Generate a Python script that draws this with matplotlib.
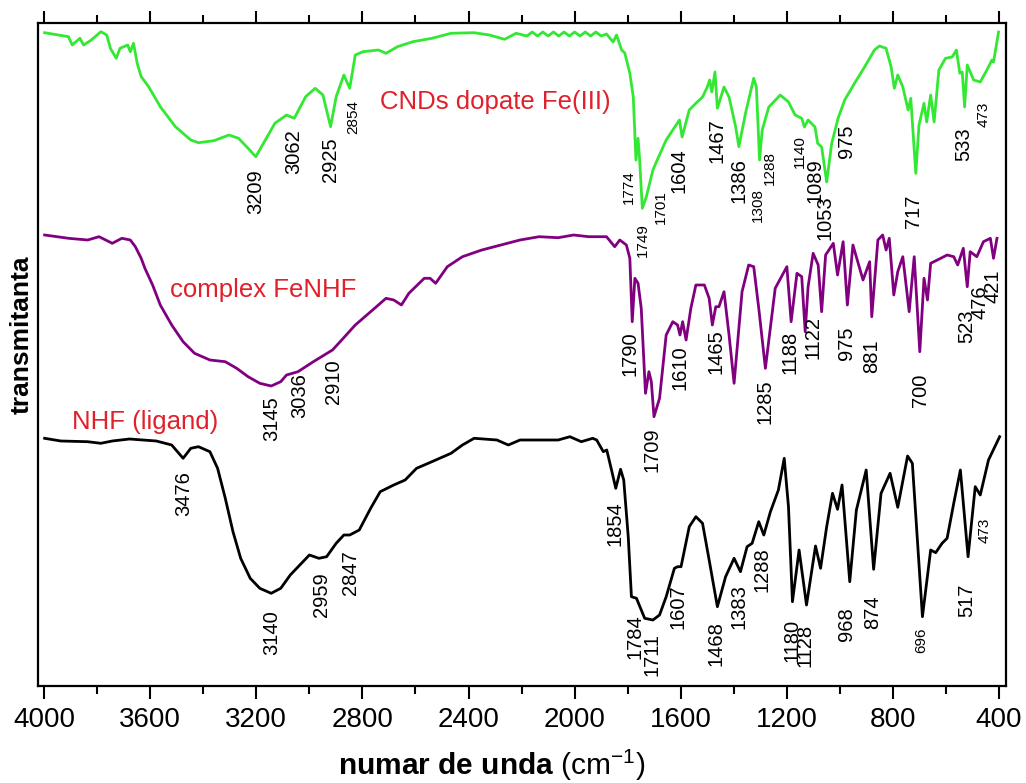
import matplotlib
matplotlib.use('Agg')
import matplotlib.pyplot as plt
from matplotlib.ticker import MultipleLocator

plt.rcParams['font.family'] = ['Liberation Sans', 'DejaVu Sans']
plt.rcParams['mathtext.fontset'] = 'custom'
plt.rcParams['mathtext.rm'] = 'Liberation Sans'
plt.rcParams['mathtext.bf'] = 'Liberation Sans:bold'
plt.rcParams['mathtext.it'] = 'Liberation Sans:italic'

# ---------------- data (wavenumber cm-1, transmittance a.u.) ----------------
green_wn = [3998, 3908, 3894, 3865, 3851, 3822, 3786, 3764, 3750, 3728, 3714, 3685, 3675, 3663,
            3649, 3634, 3606, 3562, 3505, 3447, 3418, 3360, 3303, 3267, 3231, 3202, 3173, 3130,
            3086, 3057, 3014, 2978, 2949, 2920, 2899, 2870, 2848, 2827, 2798, 2740, 2711, 2668,
            2610, 2538, 2466, 2379, 2322, 2264, 2221, 2180, 2160, 2140, 2120, 2100, 2080, 2060,
            2040, 2020, 2000, 1980, 1960, 1940, 1920, 1900, 1880, 1855, 1842, 1823, 1811, 1792,
            1779, 1769, 1761, 1755, 1745, 1730, 1705, 1692, 1655, 1630, 1605, 1595, 1568, 1543,
            1518, 1500, 1491, 1483, 1471, 1462, 1437, 1418, 1393, 1381, 1356, 1325, 1315, 1303,
            1293, 1268, 1225, 1194, 1169, 1144, 1134, 1120, 1094, 1084, 1069, 1050, 1031, 1007,
            982, 945, 907, 870, 851, 826, 807, 795, 782, 763, 743, 733, 714, 702, 683, 673, 658,
            645, 627, 602, 577, 561, 548, 539, 530, 520, 496, 471, 446, 427, 421, 402]
green_t = [653.3, 649.3, 641, 647.7, 641, 646, 654.3, 651, 637.7, 627.7, 637.7, 641, 634.3, 642.7,
           622.7, 609.3, 599.3, 579.3, 559.3, 546, 543.3, 545.3, 551, 547.7, 537.7, 529.3, 542.7, 562.7,
           571, 567.7, 589.3, 597.7, 591, 559.3, 589.3, 611, 597.7, 631, 634.3, 636, 632.7, 639.3,
           644.3, 647.7, 652.7, 653.3, 651, 646.7, 652.7, 650, 654, 650, 654, 650, 654, 650,
           654, 650, 654, 650, 654, 650, 654, 650, 652, 644, 651, 636, 633, 612.7,
           589, 526, 547.7, 526, 477.7, 489, 516, 524, 546, 556, 566, 549, 576, 582.7,
           589, 599, 606, 594, 614, 577.7, 599, 589, 559, 539.3, 572.7, 607.7, 599, 526,
           556, 579, 591, 584, 571, 567.7, 559, 566, 559, 542.7, 539, 504, 542.7, 567.7,
           586, 602.7, 619, 636, 640, 637.7, 619, 597.7, 611, 599, 576, 587.7, 512.7, 561, 582.7, 564, 591,
           564, 616, 627.7, 629, 636, 612.7, 614, 579, 621, 606, 604, 616, 626, 624, 654]

purple_wn = [3998, 3908, 3836, 3793, 3743, 3707, 3675, 3656, 3634, 3620, 3591, 3562, 3519, 3476,
             3433, 3375, 3317, 3274, 3231, 3187, 3144, 3108, 3086, 3043, 2985, 2913, 2884, 2827,
             2769, 2711, 2682, 2653, 2625, 2567, 2545, 2524, 2480, 2423, 2350, 2278, 2206, 2134,
             2062, 2004, 1947, 1880, 1849, 1830, 1805, 1792, 1783, 1773, 1761, 1749, 1733, 1720,
             1711, 1701, 1680, 1655, 1630, 1612, 1603, 1593, 1580, 1562, 1543, 1511, 1493, 1481,
             1468, 1456, 1437, 1418, 1399, 1369, 1344, 1325, 1306, 1281, 1244, 1200, 1184, 1162,
             1144, 1131, 1120, 1101, 1082, 1069, 1054, 1025, 1009, 988, 972, 951, 913, 888, 880,
             857, 839, 826, 814, 797, 782, 763, 739, 720, 699, 683, 670, 658, 620, 596, 571, 556,
             535, 520, 509, 484, 459, 433, 421, 408]
purple_t = [451, 447.7, 446, 449.3, 442.7, 447.7, 446, 439.3, 427.7, 417.7, 401, 381, 361, 344.3,
            332.7, 326, 324.3, 317.7, 309.3, 302.7, 300, 304.3, 311, 314.3, 324.3, 336, 344.3, 361,
            374.3, 387.7, 386, 381, 392.7, 407.7, 407.7, 402.7, 419.3, 429.3, 436, 441, 446, 449.3,
            448.3, 451, 449.3, 449.3, 439.3, 446, 441, 427.7, 364.3, 407.7, 402.7, 377.7, 292.7, 314.3,
            304.3, 269.3, 287.7, 351, 364.3, 361, 351, 364.3, 346, 377.7, 401, 401, 387.7, 361,
            379.3, 379.3, 394.3, 351, 302.7, 394.3, 421, 419.3, 377.7, 317.7, 397.7, 419.3, 364.3, 412.7,
            409.3, 354.3, 399.3, 432.7, 421, 374.3, 431, 442.7, 411, 444.3, 381, 441, 406, 424.3, 369.3,
            446, 451, 436, 447.7, 391, 414.3, 429.3, 374.3, 429.3, 334.3, 407.7, 386, 422.7, 427.7, 431, 429.3, 421,
            437.7, 399.3, 434.3, 429.3, 444.3, 447.7, 427.7, 447.7]

black_wn = [3998, 3937, 3836, 3786, 3743, 3678, 3577, 3519, 3476, 3447, 3418, 3375, 3346, 3317,
            3288, 3259, 3223, 3187, 3144, 3108, 3072, 3036, 3000, 2964, 2935, 2899, 2870, 2848,
            2812, 2769, 2733, 2682, 2639, 2596, 2552, 2509, 2466, 2423, 2379, 2293, 2250, 2206,
            2134, 2062, 2018, 1975, 1932, 1917, 1892, 1879, 1861, 1845, 1827, 1815, 1798, 1786,
            1767, 1754, 1736, 1705, 1680, 1655, 1624, 1612, 1599, 1568, 1543, 1518, 1493, 1462,
            1431, 1399, 1375, 1350, 1331, 1306, 1287, 1262, 1232, 1210, 1194, 1179, 1154, 1126,
            1092, 1073, 1050, 1028, 1009, 992, 963, 938, 901, 873, 845, 811, 782, 745, 727, 689,
            658, 639, 615, 596, 571, 546, 517, 490, 471, 440, 398]
black_t = [247.7, 245, 244.3, 242.7, 245, 247, 245, 241, 227.7, 237.7, 239.3, 234.3, 217.7, 187.7,
           154.3, 127.7, 107.7, 97.7, 92.7, 97.7, 111, 121, 131, 127.7, 129.3, 142.7, 151, 151,
           156, 177.7, 194.3, 201, 206, 217.7, 222.7, 227.7, 232.7, 241, 247.7, 246, 241, 246,
           246, 246, 249.3, 244.3, 247.7, 246, 234.3, 236, 216, 197.7, 216.7, 206, 149.3, 89.3,
           87.7, 79.3, 67.7, 66, 71, 89.3, 117.7, 119.3, 119.3, 159.3, 169.3, 162.7, 126, 79.3,
           109.3, 127.7, 114.3, 139.3, 142.7, 164.3, 151, 174.3, 196, 227.7, 179.3, 84.3, 136, 81,
           140, 117.7, 159.3, 192.7, 176.7, 201, 104.3, 176, 216, 116.7, 192.7, 212.7, 178.7, 230, 222.7, 69.3,
           136, 133.3, 142.7, 147.7, 182.7, 216, 129.3, 199.3, 191, 226, 249.3]

# peak labels: text, wavenumber position, transmittance position, small font?
green_labels = ["3209", "3062", "2925", "2854", "1774", "1749", "1701", "1604", "1467", "1386",
                "1308", "1288", "1140", "1089", "1053", "975", "717", "533", "473"]
green_lab_x = [3200.8, 3057.6, 2921.9, 2834.1, 1797.4, 1742, 1674.2, 1605.2, 1464.2, 1379,
               1311.1, 1265.9, 1150.2, 1093.6, 1055.9, 974.1, 723.1, 534.6, 459.2]
green_lab_y = [494.3, 534.3, 526, 569.3, 499.3, 446, 479.3, 515.2, 545.2, 505,
               481, 517.7, 534.3, 505, 468.5, 545.2, 475, 542, 571.8]
green_lab_small = [0, 0, 0, 1, 1, 1, 1, 0, 0, 0, 1, 1, 1, 0, 0, 0, 0, 0, 1]

purple_labels = ["3145", "3036", "2910", "1790", "1709", "1610", "1465", "1285", "1188", "1122",
                 "975", "881", "700", "523", "476", "421"]
purple_lab_x = [3141.7, 3035, 2909.5, 1791, 1709.2, 1602.5, 1466.8, 1282.1, 1187.9, 1100,
                974.1, 879.9, 697.8, 521.8, 471.7, 421.5]
purple_lab_y = [267, 290.2, 304.3, 332, 236, 318.5, 334.3, 284.3, 333.5, 348.5,
                342.7, 330.2, 296, 360.2, 384.3, 399.3]

black_labels = ["3476", "3140", "2959", "2847", "1854", "1784", "1711", "1607", "1468", "1383",
                "1288", "1180", "1128", "968", "874", "696", "517", "473"]
black_lab_x = [3474.9, 3141.7, 2953.2, 2846.5, 1847.6, 1772.2, 1709.2, 1609, 1466.8, 1379,
               1294.6, 1181.5, 1131.3, 974.1, 876.1, 695.2, 521.8, 452.8]
black_lab_y = [192, 53.5, 91, 113.5, 162, 49.3, 31, 79.3, 42.7, 79.3,
               116, 46, 41, 62, 74.3, 46, 85.2, 156]
black_lab_small = [0, 0, 0, 0, 0, 0, 0, 0, 0, 0, 0, 0, 0, 0, 0, 1, 0, 1]

series_names = ["CNDs dopate Fe(III)", "complex FeNHF", "NHF (ligand)"]
name_x = [2733, 3525, 3894]
name_y = [584, 396, 264]

x_ticks = [4000, 3600, 3200, 2800, 2400, 2000, 1600, 1200, 800, 400]

# ---------------- figure ----------------
fig = plt.figure(figsize=(10.26, 7.83), dpi=100)
ax = fig.add_axes([38 / 1026, 97 / 783, 968 / 1026, 663.3 / 783])

lw = 2.0
ax.plot(green_wn, green_t, color='#33e833', lw=lw, solid_joinstyle='round')
ax.plot(purple_wn, purple_t, color='#800080', lw=lw, solid_joinstyle='round')
ax.plot(black_wn, black_t, color='black', lw=lw, solid_joinstyle='round')

big, small = 14.5, 11
for t, x, y, s in zip(green_labels, green_lab_x, green_lab_y, green_lab_small):
    ax.text(x, y, t, rotation=90, ha='center', va='center', fontsize=small if s else big)
for t, x, y in zip(purple_labels, purple_lab_x, purple_lab_y):
    ax.text(x, y, t, rotation=90, ha='center', va='center', fontsize=big)
for t, x, y, s in zip(black_labels, black_lab_x, black_lab_y, black_lab_small):
    ax.text(x, y, t, rotation=90, ha='center', va='center', fontsize=small if s else big)

for t, x, y in zip(series_names, name_x, name_y):
    ax.text(x, y, t, color='#e0202a', fontsize=18.5, ha='left', va='center')

ax.set_xlim(4023, 374)
ax.set_ylim(0, 663.3)
ax.set_xticks(x_ticks)
ax.set_xticklabels([str(v) for v in x_ticks])
ax.xaxis.set_minor_locator(MultipleLocator(200))
ax.set_yticks([])
ax.tick_params(axis='x', which='major', direction='out', length=9, width=1.5,
               labelsize=20, top=True, pad=6)
ax.tick_params(axis='x', which='minor', direction='out', length=5.5, width=1.5, top=True)
for sp in ax.spines.values():
    sp.set_linewidth(1.6)

fig.text(22 / 1026, 1 - 335 / 783, 'transmitanta', rotation=90, ha='center', va='center',
         fontsize=19, fontweight='bold')
fig.text(492 / 1026, 1 - 775 / 783, r'$\mathbf{numar\ de\ unda}$ (cm$^{-1}$)',
         ha='center', va='baseline', fontsize=21.5)

fig.savefig('out.png', dpi=100)
